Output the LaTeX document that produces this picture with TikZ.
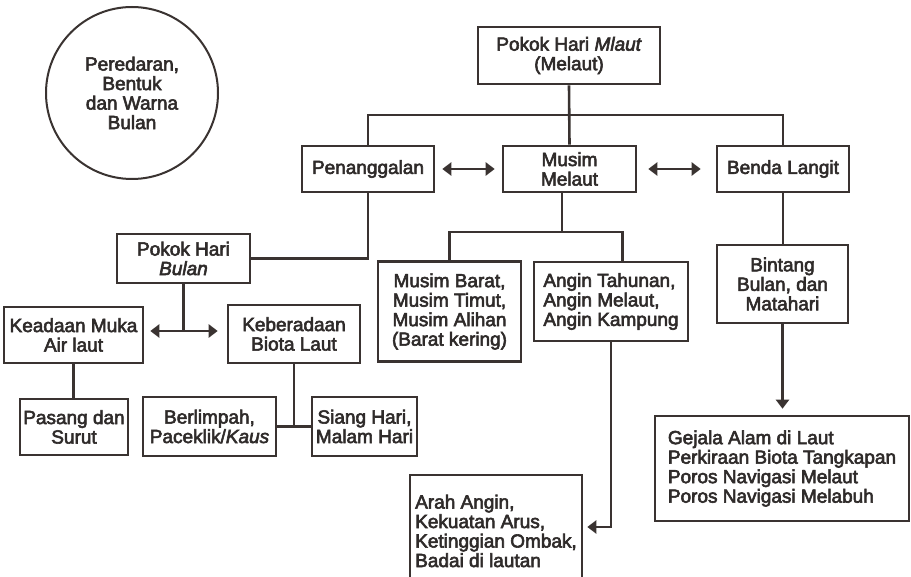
\documentclass[tikz,border=0pt]{standalone}
\usepackage{fontspec}
\setmainfont{Liberation Sans}[FakeBold=3, ItalicFeatures={FakeBold=3}]
\usetikzlibrary{arrows.meta}
\definecolor{linec}{HTML}{3A3331}
\definecolor{textc}{HTML}{2F2B2A}
\begin{document}
\begin{tikzpicture}[x=1pt,y=-1pt,
  box/.style={draw=linec, line width=2.6pt, inner sep=0pt, align=center,
    text=textc, font=\fontsize{19}{19.5}\selectfont},
  link/.style={draw=linec, line width=2.6pt},
  tip/.style={link, -{Triangle[length=9pt,width=13pt]}},
  both/.style={link, {Triangle[length=9pt,width=13pt]}-{Triangle[length=9pt,width=13pt]}}]
\useasboundingbox (0,0) rectangle (911,577);
\fill[white] (0,0) rectangle (911,577);
\clip (0,0) rectangle (911,577);

% moon circle
\node[draw=linec, line width=2pt, circle, minimum size=172pt, inner sep=0pt,
  align=center, text=textc, font=\fontsize{19}{19.5}\selectfont]
  (moon) at (132,93) {Peredaran,\\Bentuk\\dan Warna\\Bulan};

% upper level
\node[box, minimum width=182pt, minimum height=57pt] (mlaut) at (569,55.5)
  {Pokok Hari \textit{Mlaut}\\(Melaut)};
\node[box, minimum width=132pt, minimum height=46pt] (pen) at (368,169) {Penanggalan};
\node[box, minimum width=133pt, minimum height=46pt] (musim) at (569.5,169) {Musim\\Melaut};
\node[box, minimum width=132pt, minimum height=46pt] (benda) at (783,169) {Benda Langit};

% moon-day branch
\node[box, minimum width=133pt, minimum height=49pt] (bulan) at (183.5,258.5)
  {Pokok Hari\\\textit{Bulan}};
\node[box, minimum width=139pt, minimum height=56pt] (keadaan) at (73.5,335)
  {Keadaan Muka\\Air laut};
\node[box, minimum width=132pt, minimum height=58pt] (keber) at (294,334)
  {Keberadaan\\Biota Laut};
\node[box, minimum width=108pt, minimum height=56pt] (pasang) at (74,427)
  {Pasang dan\\Surut};
\node[box, minimum width=133pt, minimum height=59pt] (berlim) at (209.5,426.5)
  {Berlimpah,\\Paceklik/\textit{Kaus}};
\node[box, minimum width=105pt, minimum height=59pt] (siang) at (364.5,426.5)
  {Siang Hari,\\Malam Hari};

% season branch
\node[box, minimum width=143pt, minimum height=100pt] (barat) at (449.5,311.5)
  {Musim Barat,\\Musim Timut,\\Musim Alihan\\(Barat kering)};
\node[box, align=left, minimum width=154pt, minimum height=79pt] (angin) at (611,301.5)
  {Angin Tahunan,\\Angin Melaut,\\Angin Kampung};
\node[box, align=left, minimum width=172pt, minimum height=112pt] (arah) at (496,531)
  {Arah Angin,\\Kekuatan Arus,\\Ketinggian Ombak,\\Badai di lautan};

% sky branch
\node[box, minimum width=131pt, minimum height=78pt] (bintang) at (782.5,284)
  {Bintang\\Bulan, dan\\Matahari};
\node[box, align=left, minimum width=254pt, minimum height=105pt] (gejala) at (782,468.5)
  {Gejala Alam di Laut\\Perkiraan Biota Tangkapan\\Poros Navigasi Melaut\\Poros Navigasi Melabuh};

% junction points
\coordinate (hub) at (569,115);
\coordinate (mhub) at (562,232);
\coordinate (bj) at (183.5,331);

% connectors
\draw[link] (mlaut.south) -- (musim.north);
\draw[link] (pen.north) |- (hub) -| (benda.north);
\draw[both, shorten <=7pt, shorten >=7pt] (pen.east) -- (musim.west);
\draw[both, shorten <=11pt, shorten >=15pt] (musim.east) -- (benda.west);

\draw[link] (pen.south) |- (bulan.east);
\draw[link] (bulan.south) -- (bj);
\draw[both, shorten <=6pt, shorten >=9pt] (keadaan.east |- bj) -- (keber.west |- bj);
\draw[link] (keadaan.south) -- (keadaan.south |- pasang.north);
\draw[link] (keber.south) -- (keber.south |- siang.west);
\draw[link] (berlim.east) -- (siang.west);

\draw[link] (musim.south -| mhub) -- (mhub);
\draw[link] (barat.north) |- (mhub) -| ([xshift=11.7pt]angin.north);
\draw[tip, shorten >=4pt] (angin.south) |- ([yshift=4pt]arah.east);

\draw[link] (benda.south) -- (benda.south |- bintang.north);
\draw[tip, shorten >=6pt] (bintang.south) -- (bintang.south |- gejala.north);
\end{tikzpicture}
\end{document}
